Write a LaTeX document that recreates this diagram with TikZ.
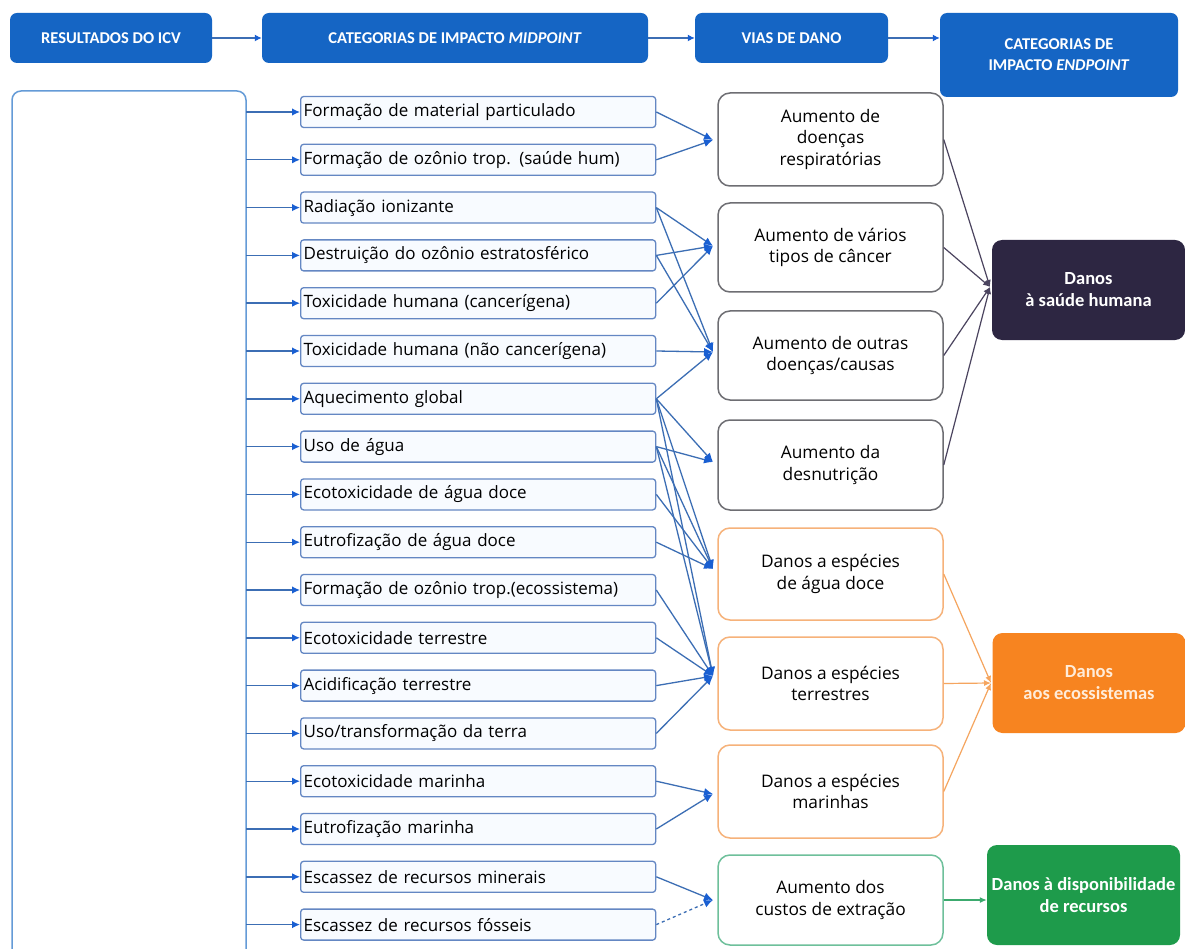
\documentclass[tikz,border=0pt]{standalone}
\usepackage{fontspec}
\setmainfont{Carlito}
\newfontfamily\bodyfont{Open Sans}
\usetikzlibrary{arrows.meta,calc}
\definecolor{hdrblue}{RGB}{21,101,196}
\definecolor{midborder}{RGB}{100,135,195}
\definecolor{midfill}{RGB}{248,251,255}
\definecolor{conblue}{RGB}{60,110,180}
\definecolor{tipblue}{RGB}{25,95,210}
\definecolor{grayb}{RGB}{110,110,115}
\definecolor{orangeb}{RGB}{246,178,122}
\definecolor{greenb}{RGB}{110,192,155}
\definecolor{healthfill}{RGB}{45,38,66}
\definecolor{healthline}{RGB}{75,68,95}
\definecolor{ecofill}{RGB}{247,132,32}
\definecolor{ecoline}{RGB}{245,165,95}
\definecolor{resfill}{RGB}{30,155,75}
\definecolor{resline}{RGB}{60,170,110}
\definecolor{leftborder}{RGB}{100,155,215}
\begin{document}
\begin{tikzpicture}[x=1pt,y=-1pt,
  hdr/.style={draw=none,fill=hdrblue,rounded corners=7pt,text=white,font=\bfseries\fontsize{16.5}{21}\selectfont,align=center,inner sep=0pt},
  midbox/.style={draw=midborder,fill=midfill,line width=1.3pt,rounded corners=3pt,minimum width=355pt,minimum height=31pt,text width=349pt,align=left,inner sep=3pt,font=\bodyfont\fontsize{17}{18}\selectfont,anchor=west},
  pathbox/.style={line width=1.5pt,rounded corners=12pt,fill=white,minimum width=225pt,align=center,font=\bodyfont\fontsize{17.3}{21.5}\selectfont,inner sep=0pt},
  endbox/.style={draw=none,rounded corners=10pt,minimum width=193pt,minimum height=100pt,align=center,text=white,font=\bfseries\fontsize{18.5}{22}\selectfont,inner sep=0pt},
  hdrarrow/.style={draw=conblue,line width=1.3pt,-{Latex[length=7pt,width=7pt,color=tipblue]}},
  feed/.style={draw=conblue,line width=1.4pt,-{Latex[length=8pt,width=7.5pt,color=tipblue]}},
  link/.style={draw=conblue,line width=1.3pt,-{Latex[length=9pt,width=8pt,color=tipblue]}},
  hlink/.style={draw=healthline,line width=1.2pt,-{Latex[length=7pt,width=6pt]}},
  elink/.style={draw=ecoline,line width=1.2pt,-{Latex[length=7pt,width=6pt]}},
  rlink/.style={draw=resline,line width=1.2pt,-{Latex[length=7pt,width=6pt]}}
]
\useasboundingbox (0,0) rectangle (1185,949);
\fill[white] (0,0) rectangle (1185,949);

% headers
\node[hdr,minimum width=202pt,minimum height=50pt] (h1) at (111,38) {RESULTADOS DO ICV};
\node[hdr,minimum width=386pt,minimum height=50pt] (h2) at (455,38) {CATEGORIAS DE IMPACTO \textit{MIDPOINT}};
\node[hdr,minimum width=193pt,minimum height=50pt] (h3) at (791.5,38) {VIAS DE DANO};
\node[hdr,minimum width=238pt,minimum height=84pt] (h4) at (1059,55) {CATEGORIAS DE\\IMPACTO \textit{ENDPOINT}};
\draw[hdrarrow] (h1.east) -- (h2.west);
\draw[hdrarrow] (h2.east) -- (h3.west);
\draw[hdrarrow] (h3.east) -- (h3.east -| h4.west);

% left box
\draw[leftborder,line width=1.5pt,rounded corners=9pt,fill=white] (12,960) -- (12,91) -- (246,91) -- (246,960);
\coordinate (lb) at (246,91);

% midpoint boxes
\foreach \i/\t in {1/{Formação de material particulado},
  2/{Formação de ozônio trop. (saúde hum)},
  3/{Radiação ionizante},
  4/{Destruição do ozônio estratosférico},
  5/{Toxicidade humana (cancerígena)},
  6/{Toxicidade humana (não cancerígena)},
  7/{Aquecimento global},
  8/{Uso de água},
  9/{Ecotoxicidade de água doce},
  10/{Eutrofização de água doce},
  11/{Formação de ozônio trop.(ecossistema)},
  12/{Ecotoxicidade terrestre},
  13/{Acidificação terrestre},
  14/{Uso/transformação da terra},
  15/{Ecotoxicidade marinha},
  16/{Eutrofização marinha},
  17/{Escassez de recursos minerais},
  18/{Escassez de recursos fósseis}}{
  \node[midbox] (m\i) at (300,{112+47.8*(\i-1)}) {\t};
  \draw[feed] (m\i.west -| lb) -- (m\i.west);
}

% pathway boxes
\node[pathbox,draw=grayb,minimum height=93pt] (p1) at (830.5,139.5) {Aumento de\\doenças\\respiratórias};
\node[pathbox,draw=grayb,minimum height=89pt] (p2) at (830.5,247.5) {Aumento de vários\\tipos de câncer};
\node[pathbox,draw=grayb,minimum height=89pt] (p3) at (830.5,355.5) {Aumento de outras\\doenças/causas};
\node[pathbox,draw=grayb,minimum height=90pt] (p4) at (830.5,465) {Aumento da\\desnutrição};
\node[pathbox,draw=orangeb,minimum height=92pt] (p5) at (830.5,574) {Danos a espécies\\de água doce};
\node[pathbox,draw=orangeb,minimum height=93pt] (p6) at (830.5,683.5) {Danos a espécies\\terrestres};
\node[pathbox,draw=orangeb,minimum height=93pt] (p7) at (830.5,791.5) {Danos a espécies\\marinhas};
\node[pathbox,draw=greenb,minimum height=90pt] (p8) at (830.5,900) {Aumento dos\\custos de extração};

\coordinate (t1) at (713,140);
\coordinate (t2) at (713,246);
\coordinate (t3) at (713,352);
\coordinate (t4) at (713,462);
\coordinate (t5) at (713,569);
\coordinate (t6) at (713,676);
\coordinate (t7) at (713,794);
\coordinate (t8) at (713,900);

% midpoint -> pathway
\draw[link] (m1.east) -- (t1);
\draw[link] (m2.east) -- (t1);
\draw[link] (m3.east) -- (t2);
\draw[link] (m4.east) -- (t2);
\draw[link] (m5.east) -- (t2);
\draw[link] (m3.east) -- (t3);
\draw[link] (m4.east) -- (t3);
\draw[link] (m6.east) -- (t3);
\draw[link] (m7.east) -- (t3);
\draw[link] (m7.east) -- (t4);
\draw[link] (m8.east) -- (t4);
\draw[link] (m7.east) -- (t5);
\draw[link] (m8.east) -- (t5);
\draw[link] (m9.east) -- (t5);
\draw[link] (m10.east) -- (t5);
\draw[link] (m7.east) -- (t6);
\draw[link] (m8.east) -- (t6);
\draw[link] (m11.east) -- (t6);
\draw[link] (m12.east) -- (t6);
\draw[link] (m13.east) -- (t6);
\draw[link] (m14.east) -- (t6);
\draw[link] (m15.east) -- (t7);
\draw[link] (m16.east) -- (t7);
\draw[link] (m17.east) -- (t8);
\draw[link,dashed] (m18.east) -- (t8);

% endpoint boxes
\node[endbox,fill=healthfill] (e1) at (1088.5,290) {Danos\\à saúde humana};
\node[endbox,fill=ecofill,text=orange!15] (e2) at (1089,683) {Danos\\aos ecossistemas};
\node[endbox,fill=resfill] (e3) at (1083.5,895) {Danos à disponibilidade\\de recursos};

\coordinate (u1) at (990,287);
\coordinate (u2) at (991,683);
\draw[hlink] (p1.east) -- (u1);
\draw[hlink] (p2.east) -- (u1);
\draw[hlink] (p3.east) -- (u1);
\draw[hlink] (p4.east) -- (u1);
\draw[elink] (p5.east) -- (u2);
\draw[elink] (p6.east) -- (u2);
\draw[elink] (p7.east) -- (u2);
\draw[rlink] (p8.east) -- (p8.east -| e3.west);
\end{tikzpicture}
\end{document}
